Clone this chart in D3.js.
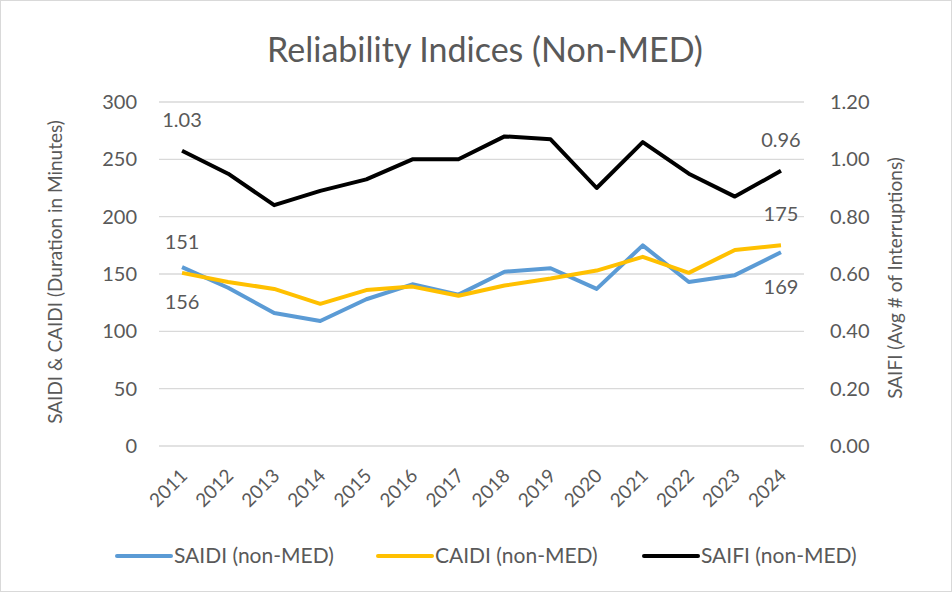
<!DOCTYPE html>
<html lang="en">
<head>
<meta charset="UTF-8">
<title>Reliability Indices (Non-MED)</title>
<script src="https://cdn.jsdelivr.net/npm/d3@7"></script>
<style>
  body { margin: 0; background: #fff; }
  text { font-family: Lato, "Open Sans", sans-serif; fill: #595959; }
</style>
</head>
<body>
<svg width="952" height="592"></svg>
<script>
  const years = ['2011', '2012', '2013', '2014', '2015', '2016', '2017', '2018', '2019', '2020', '2021', '2022', '2023', '2024'];
  const saidi = [156, 138, 116, 109, 128, 141, 132, 152, 155, 137, 175, 143, 149, 169];
  const caidi = [151, 143, 137, 124, 136, 139, 131, 140, 146, 153, 165, 151, 171, 175];
  const saifi = [1.03, 0.95, 0.84, 0.89, 0.93, 1.00, 1.00, 1.08, 1.07, 0.90, 1.06, 0.95, 0.87, 0.96];
  const leftTicks = [0, 50, 100, 150, 200, 250, 300];
  const rightTicks = [0, 0.2, 0.4, 0.6, 0.8, 1.0, 1.2];

  const svg = d3.select('svg');
  const width = +svg.attr('width');
  const height = +svg.attr('height');
  const margin = { top: 102, right: 148, bottom: 146, left: 159 };
  const innerWidth = width - margin.left - margin.right;
  const innerHeight = height - margin.top - margin.bottom;

  // frame
  svg.append('rect')
    .attr('x', 0.5).attr('y', 0.5)
    .attr('width', width - 1).attr('height', height - 1)
    .attr('fill', '#fff').attr('stroke', '#d9d9d9');

  const g = svg.append('g').attr('transform', `translate(${margin.left},${margin.top})`);

  const x = d3.scalePoint().domain(years).range([0, innerWidth]).padding(0.5);
  const yL = d3.scaleLinear().domain([0, 300]).range([innerHeight, 0]);
  const yR = d3.scaleLinear().domain([0, 1.2]).range([innerHeight, 0]);

  // grid
  g.append('g')
    .selectAll('line')
    .data(leftTicks)
    .join('line')
    .attr('x1', 0).attr('x2', innerWidth)
    .attr('y1', d => yL(d)).attr('y2', d => yL(d))
    .attr('stroke', '#d9d9d9').attr('stroke-width', 1.3);

  // left axis
  const axL = g.append('g')
    .call(d3.axisLeft(yL).tickValues(leftTicks).tickSize(0).tickPadding(22));
  axL.select('.domain').remove();
  axL.selectAll('text').attr('font-size', 20).attr('fill', '#595959');

  // right axis
  const axR = g.append('g')
    .attr('transform', `translate(${innerWidth},0)`)
    .call(d3.axisRight(yR).tickValues(rightTicks).tickSize(0).tickPadding(26).tickFormat(d3.format('.2f')));
  axR.select('.domain').remove();
  axR.selectAll('text').attr('font-size', 20).attr('fill', '#595959');

  // x axis
  const axX = g.append('g')
    .attr('transform', `translate(0,${innerHeight})`)
    .call(d3.axisBottom(x).tickSize(0).tickPadding(0));
  axX.select('.domain').remove();
  axX.selectAll('text')
    .attr('font-size', 19).attr('fill', '#595959')
    .attr('text-anchor', 'end')
    .attr('dy', 0)
    .attr('transform', 'translate(6,31) rotate(-45)');

  // lines
  const lineL = vals => d3.line().x((d, i) => x(years[i])).y(d => yL(d))(vals);
  const lineR = vals => d3.line().x((d, i) => x(years[i])).y(d => yR(d))(vals);

  g.append('path').attr('d', lineL(saidi)).attr('fill', 'none')
    .attr('stroke', '#5B9BD5').attr('stroke-width', 4).attr('stroke-linejoin', 'round');
  g.append('path').attr('d', lineL(caidi)).attr('fill', 'none')
    .attr('stroke', '#FFC000').attr('stroke-width', 4).attr('stroke-linejoin', 'round');
  g.append('path').attr('d', lineR(saifi)).attr('fill', 'none')
    .attr('stroke', '#000').attr('stroke-width', 4).attr('stroke-linejoin', 'round');

  // data labels (first and last points)
  const last = years.length - 1;
  const labels = [
    { t: saifi[0].toFixed(2), x: x(years[0]), y: yR(saifi[0]) - 31 },
    { t: caidi[0], x: x(years[0]), y: yL(caidi[0]) - 31 },
    { t: saidi[0], x: x(years[0]), y: yL(saidi[0]) + 35 },
    { t: saifi[last].toFixed(2), x: x(years[last]), y: yR(saifi[last]) - 31 },
    { t: caidi[last], x: x(years[last]), y: yL(caidi[last]) - 31 },
    { t: saidi[last], x: x(years[last]), y: yL(saidi[last]) + 35 }
  ];
  g.append('g').selectAll('text')
    .data(labels)
    .join('text')
    .attr('x', d => d.x).attr('y', d => d.y)
    .attr('dy', '0.35em')
    .attr('text-anchor', 'middle')
    .attr('font-size', 20)
    .text(d => d.t);

  // axis titles
  svg.append('text')
    .attr('transform', `translate(55,272) rotate(-90)`)
    .attr('dy', '0.35em')
    .attr('text-anchor', 'middle')
    .attr('font-size', 19)
    .text('SAIDI & CAIDI (Duration in Minutes)');
  svg.append('text')
    .attr('transform', `translate(895,278) rotate(-90)`)
    .attr('dy', '0.35em')
    .attr('text-anchor', 'middle')
    .attr('font-size', 19)
    .text('SAIFI (Avg # of Interruptions)');

  // title
  svg.append('text')
    .attr('x', 485).attr('y', 62)
    .attr('text-anchor', 'middle')
    .attr('font-size', 34)
    .text('Reliability Indices (Non-MED)');

  // legend
  const legend = [
    { name: 'SAIDI (non-MED)', color: '#5B9BD5', x: 117 },
    { name: 'CAIDI (non-MED)', color: '#FFC000', x: 378 },
    { name: 'SAIFI (non-MED)', color: '#000', x: 644 }
  ];
  const lg = svg.append('g').selectAll('g').data(legend).join('g')
    .attr('transform', d => `translate(${d.x},556)`);
  lg.append('line').attr('x1', 0).attr('x2', 54).attr('y1', 0).attr('y2', 0)
    .attr('stroke', d => d.color).attr('stroke-width', 4).attr('stroke-linecap', 'round');
  lg.append('text').attr('x', 57).attr('dy', '0.35em')
    .attr('font-size', 21).text(d => d.name);
</script>
</body>
</html>
